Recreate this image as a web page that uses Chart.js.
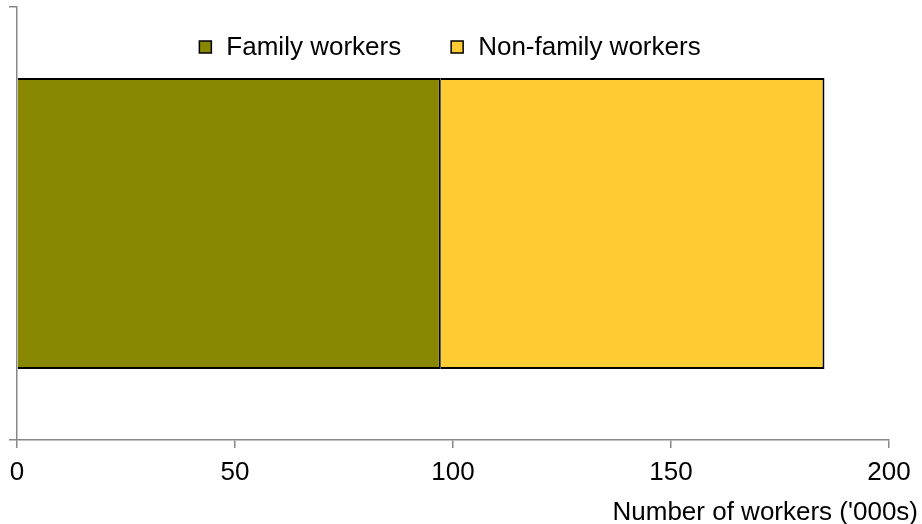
<!DOCTYPE html>
<html>
<head>
<meta charset="utf-8">
<title>Family and non-family workers</title>
<script src="https://cdn.jsdelivr.net/npm/chart.js@4"></script>
<style>
    body { margin: 0; background: #fff; }
    #wrap { width: 922px; height: 524px; }
</style>
</head>
<body>
<div id="wrap"><canvas id="chart"></canvas></div>
<script>
    const categories = ['']
    const familyWorkers = [97.2]
    const nonFamilyWorkers = [88.0]
    const seriesNames = ['Family workers', 'Non-family workers']
    const xTicks = [0, 50, 100, 150, 200]
    const axisTitle = "Number of workers ('000s)"

    const FONT = 'Arial, "Liberation Sans", sans-serif'
    const colours = ['#888800', '#FFCC33']

    // legend sits inside the plot, drawn by hand
    const insideLegend = {
        id: 'insideLegend',
        afterDraw(chart) {
            const c = chart.ctx
            c.save()
            c.font = '26px ' + FONT
            c.textBaseline = 'middle'
            const y = 47, box = 12, gap = 15, between = 50
            const widths = seriesNames.map(n => c.measureText(n).width)
            let total = widths.reduce((a, b) => a + b, 0) + seriesNames.length * (box + gap) + between
            let x = 450 - total / 2
            seriesNames.forEach((name, i) => {
                c.fillStyle = colours[i]
                c.fillRect(x, y - box / 2, box, box)
                c.strokeStyle = '#000'
                c.lineWidth = 1.5
                c.strokeRect(x, y - box / 2, box, box)
                c.fillStyle = '#000'
                c.fillText(name, x + box + gap, y + 1)
                x += box + gap + widths[i] + between
            })
            // axis title, right aligned past the end of the axis
            c.textAlign = 'right'
            c.textBaseline = 'alphabetic'
            c.fillText(axisTitle, 918, 520)
            c.restore()
        }
    }

    new Chart(document.getElementById('chart'), {
        type: 'bar',
        data: {
            labels: categories,
            datasets: [
                {
                    label: seriesNames[0],
                    data: familyWorkers,
                    backgroundColor: colours[0],
                    borderColor: '#000',
                    borderWidth: 2
                },
                {
                    label: seriesNames[1],
                    data: nonFamilyWorkers,
                    backgroundColor: colours[1],
                    borderColor: '#000',
                    borderWidth: 2
                }
            ]
        },
        options: {
            indexAxis: 'y',
            responsive: true,
            maintainAspectRatio: false,
            animation: false,
            barPercentage: 0.672,
            categoryPercentage: 1,
            layout: { padding: { top: 7, right: 33, left: 0, bottom: 0 } },
            plugins: {
                legend: { display: false },
                tooltip: { enabled: false }
            },
            scales: {
                x: {
                    stacked: true,
                    min: 0,
                    max: 200,
                    afterBuildTicks: axis => { axis.ticks = xTicks.map(v => ({ value: v })) },
                    afterFit: axis => { axis.height = 84 },
                    grid: { drawOnChartArea: false, tickLength: 8, color: '#888', lineWidth: 1.5 },
                    border: { color: '#888', width: 1.5 },
                    ticks: { color: '#000', font: { size: 26, family: FONT }, padding: 9, maxRotation: 0 }
                },
                y: {
                    stacked: true,
                    offset: true,
                    afterFit: axis => { axis.width = 17 },
                    grid: { drawOnChartArea: false, offset: true, tickLength: 8, color: '#888', lineWidth: 1.5 },
                    border: { color: '#888', width: 1.5 },
                    ticks: { display: false }
                }
            }
        },
        plugins: [insideLegend]
    })
</script>
</body>
</html>
